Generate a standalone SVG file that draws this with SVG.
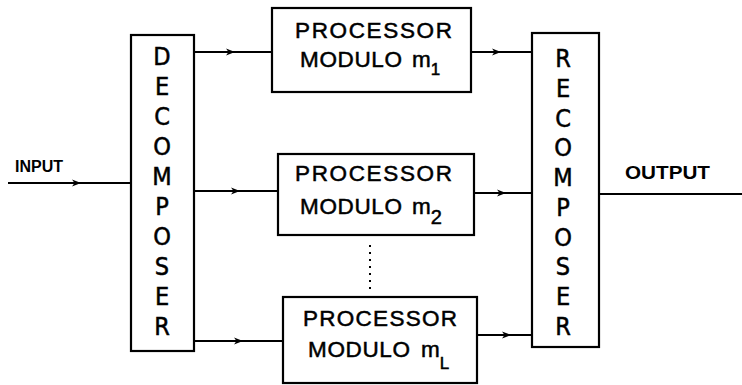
<svg xmlns="http://www.w3.org/2000/svg" width="742" height="385" viewBox="0 0 742 385">
<defs>
<marker id="arr" markerWidth="11" markerHeight="8" refX="9" refY="4" orient="auto" markerUnits="userSpaceOnUse">
<path d="M0,0.5 L9,4 L0,7.5 L2.5,4 z" fill="#000"/>
</marker>
<style>
.box{fill:#fff;stroke:#000;stroke-width:2.2}
.ln{fill:none;stroke:#000;stroke-width:2;marker-mid:url(#arr)}
.t{font-family:"Liberation Sans",Arial,sans-serif;font-size:22.5px;fill:#000;stroke:#000;stroke-width:0.5}
.v{font-family:"Liberation Sans Narrow","DejaVu Sans Condensed","Liberation Sans",sans-serif;font-size:25px;fill:#000;stroke:#000;stroke-width:0.5;text-anchor:middle}
.lab{font-family:"Liberation Sans",Arial,sans-serif;font-weight:bold;fill:#000}
</style>
</defs>
<g id="connectors">
<path class="ln" d="M8,183 L81,183 L131,183"/>
<path class="ln" d="M194,52 L235,52 L272,52"/>
<path class="ln" d="M194,191 L240,191 L278,191"/>
<path class="ln" d="M194,341 L243,341 L283,341"/>
<path class="ln" d="M471,52 L501,52 L532,52"/>
<path class="ln" d="M474,193 L506,193 L532,193"/>
<path class="ln" d="M477,335 L511,335 L532,335"/>
<path class="ln" d="M599,194 L742,194" style="marker-mid:none"/>
<path d="M370,245 L370,292" fill="none" stroke="#000" stroke-width="2" stroke-dasharray="2,5"/>
</g>
<g id="input-label">
<text class="lab" x="15" y="172" font-size="16">INPUT</text>
</g>
<g id="output-label">
<text class="lab" x="625" y="179" font-size="19" textLength="85" lengthAdjust="spacingAndGlyphs">OUTPUT</text>
</g>
<g id="decomposer">
<rect class="box" x="131" y="35" width="63" height="316"/>
<text class="v" x="162" y="65">D</text>
<text class="v" x="162" y="95">E</text>
<text class="v" x="162" y="125">C</text>
<text class="v" x="162" y="155">O</text>
<text class="v" x="162" y="185">M</text>
<text class="v" x="162" y="215">P</text>
<text class="v" x="162" y="245">O</text>
<text class="v" x="162" y="275">S</text>
<text class="v" x="162" y="305">E</text>
<text class="v" x="162" y="335">R</text>
</g>
<g id="recomposer">
<rect class="box" x="532" y="33" width="67" height="314"/>
<text class="v" x="563" y="67">R</text>
<text class="v" x="563" y="97">E</text>
<text class="v" x="563" y="127">C</text>
<text class="v" x="563" y="156">O</text>
<text class="v" x="563" y="186">M</text>
<text class="v" x="563" y="216">P</text>
<text class="v" x="563" y="246">O</text>
<text class="v" x="563" y="275">S</text>
<text class="v" x="563" y="305">E</text>
<text class="v" x="563" y="335">R</text>
</g>
<g id="processor1">
<rect class="box" x="272" y="8" width="199" height="84"/>
<text class="t" x="295" y="38" textLength="157" lengthAdjust="spacing">PROCESSOR</text>
<text class="t" x="300" y="67" textLength="102" lengthAdjust="spacing">MODULO</text>
<text class="t" x="412" y="67">m<tspan dy="8" font-size="17">1</tspan></text>
</g>
<g id="processor2">
<rect class="box" x="278" y="154" width="196" height="81"/>
<text class="t" x="295" y="181" textLength="157" lengthAdjust="spacing">PROCESSOR</text>
<text class="t" x="300" y="214" textLength="102" lengthAdjust="spacing">MODULO</text>
<text class="t" x="412" y="214">m<tspan dy="10" font-size="20">2</tspan></text>
</g>
<g id="processorL">
<rect class="box" x="283" y="297" width="194" height="86"/>
<text class="t" x="303" y="326" textLength="154" lengthAdjust="spacing">PROCESSOR</text>
<text class="t" x="308" y="357" textLength="102" lengthAdjust="spacing">MODULO</text>
<text class="t" x="421" y="357">m<tspan dy="12" font-size="17">L</tspan></text>
</g>
</svg>
